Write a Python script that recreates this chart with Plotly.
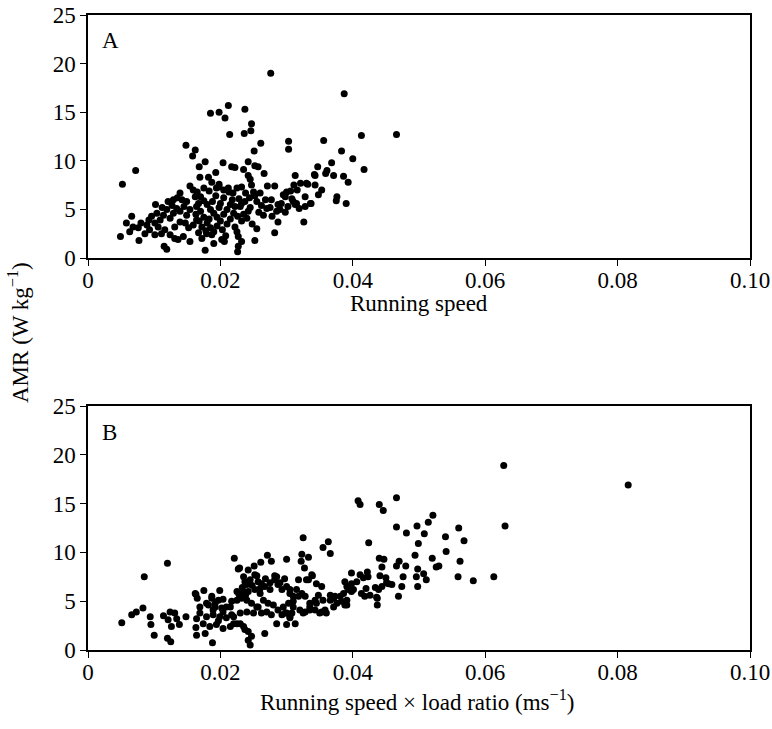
import plotly.graph_objects as go

# ---------------- Panel A: running speed vs AMR ----------------
a_speed = [
    0.0276, 0.0185, 0.0198, 0.0212, 0.0207, 0.0237, 0.0247, 0.0246, 0.0236, 0.0214,
    0.0148, 0.0162, 0.0158, 0.0261, 0.0251, 0.0303, 0.0303, 0.0072, 0.0052,
    0.0387, 0.0413, 0.0466, 0.0356, 0.0383, 0.0400, 0.0368, 0.0347, 0.0361, 0.0359,
    0.0417, 0.0371, 0.0386, 0.0393, 0.0343, 0.0313, 0.0311, 0.0321, 0.0330, 0.0343,
    0.0353, 0.0348, 0.0300, 0.0316, 0.0328, 0.0376, 0.0375, 0.0390, 0.0336, 0.0310,
    0.0313, 0.0319, 0.0326,
    0.0168, 0.0177, 0.0204, 0.0217, 0.0222, 0.0235, 0.0242, 0.0252, 0.0257, 0.0266,
    0.0169, 0.0182, 0.0193, 0.0187, 0.0198, 0.0194, 0.0242, 0.0245, 0.0247,
    0.0342, 0.0332, 0.0271, 0.0282, 0.0295, 0.0298, 0.0308,
    0.0225, 0.0232, 0.0219, 0.0250, 0.0260,
    0.0315, 0.0337, 0.0328, 0.0287, 0.0290, 0.0270, 0.0265, 0.0277,
    0.0287, 0.0282, 0.0252, 0.0240, 0.0242, 0.0232, 0.0237, 0.0230,
    0.0222, 0.0225, 0.0227, 0.0232, 0.0227, 0.0226, 0.0177, 0.0202, 0.0206, 0.0179, 0.0187,
    0.0139, 0.0102, 0.0121, 0.0129, 0.0135, 0.0142, 0.0149, 0.0154, 0.0159, 0.0162,
    0.0066, 0.0058, 0.0068, 0.0076, 0.0063, 0.0049, 0.0077, 0.0089, 0.0093, 0.0086,
    0.0096, 0.0104, 0.0109, 0.0101, 0.0114, 0.0119, 0.0124, 0.0129, 0.0134, 0.0139,
    0.0116, 0.0124, 0.0131, 0.0136, 0.0144, 0.0154, 0.0115, 0.0119,
    0.0106, 0.0111, 0.0101, 0.0147, 0.0152, 0.0159, 0.0164, 0.0131, 0.0139, 0.0149,
    0.0154, 0.0164, 0.0167,
    0.0165, 0.0170, 0.0175, 0.0180, 0.0185, 0.0190, 0.0195, 0.0200, 0.0205, 0.0210,
    0.0215, 0.0218, 0.0170, 0.0175, 0.0180, 0.0185, 0.0190, 0.0195, 0.0200, 0.0205,
    0.0210, 0.0215, 0.0220, 0.0168, 0.0172, 0.0178, 0.0183, 0.0188, 0.0193, 0.0198,
    0.0203, 0.0208, 0.0213, 0.0183, 0.0163, 0.0167, 0.0172, 0.0190, 0.0198, 0.0205,
    0.0212, 0.0175,
    0.0235, 0.0245, 0.0255, 0.0258, 0.0262, 0.0268, 0.0275, 0.0278, 0.0285, 0.0292,
    0.0298, 0.0302, 0.0306, 0.0244, 0.0252, 0.0238, 0.0228, 0.0222, 0.0226, 0.0232,
    0.0248, 0.0255,
    0.0112, 0.0127, 0.0145, 0.0092, 0.0080,
]
a_amr = [
    19.0, 14.9, 15.0, 15.7, 14.4, 15.3, 13.8, 13.1, 12.8, 12.7,
    11.6, 11.1, 10.5, 11.8, 11.0, 12.0, 11.2, 9.0, 7.6,
    16.9, 12.6, 12.7, 12.1, 11.0, 10.2, 9.8, 9.4, 9.0, 8.7,
    9.1, 8.5, 8.4, 7.8, 8.5, 8.5, 7.5, 7.7, 7.7, 7.5,
    7.0, 6.5, 6.8, 7.0, 6.3, 6.3, 5.9, 5.6, 5.6, 5.8,
    5.5, 5.1, 3.7,
    9.4, 9.9, 9.8, 9.4, 9.3, 9.1, 9.9, 9.5, 9.4, 8.7,
    8.3, 8.3, 8.8, 7.8, 7.6, 7.2, 8.5, 8.1, 7.5,
    8.6, 7.6, 7.4, 7.4, 6.5, 6.3, 6.1,
    7.2, 7.3, 6.7, 6.8, 6.7,
    5.6, 5.6, 5.3, 5.5, 5.0, 5.1, 4.4, 6.0,
    3.7, 2.6, 1.8, 4.1, 4.8, 5.6, 5.8, 5.3,
    3.2, 2.7, 2.2, 1.7, 1.2, 0.65, 0.8, 1.9, 1.7, 2.5, 2.4,
    6.7, 5.5, 5.8, 6.0, 6.2, 6.0, 5.8, 7.4, 7.0, 6.3,
    4.3, 3.6, 3.2, 3.1, 2.7, 2.2, 1.8, 3.4, 2.9, 2.5,
    4.3, 4.6, 3.9, 3.6, 4.4, 5.0, 4.1, 4.6, 5.1, 4.8,
    2.9, 2.4, 2.0, 1.9, 2.2, 1.7, 1.2, 0.9,
    3.2, 2.5, 2.4, 3.6, 3.1, 3.4, 3.9, 3.2, 3.7, 4.4,
    5.0, 5.3, 5.6,
    6.8, 6.3, 5.9, 5.5, 5.0, 4.6, 4.2, 3.8, 4.5, 5.0,
    5.5, 6.0, 4.8, 4.2, 3.6, 3.1, 2.7, 3.3, 5.6, 6.2,
    3.5, 4.0, 4.6, 3.8, 3.2, 2.8, 4.0, 5.8, 6.4, 5.2,
    2.9, 2.3, 6.8, 6.9, 4.5, 2.6, 2.0, 1.5, 7.3, 7.0,
    7.2, 7.2,
    4.5, 5.2, 5.8, 4.7, 5.4, 6.0, 5.2, 4.3, 4.8, 5.6,
    4.7, 5.3, 6.9, 6.2, 6.4, 6.7, 6.1, 5.3, 4.3, 3.8,
    3.5, 3.0,
    5.2, 5.4, 5.3, 3.9, 3.6,
]

# ---------------- Panel B: running speed x load ratio vs AMR ----------------
b_speed_load = [
    0.0628, 0.0816, 0.0630, 0.0613,
    0.0408, 0.0411, 0.0466, 0.0440, 0.0446, 0.0521, 0.0514, 0.0497, 0.0466, 0.0481,
    0.0508, 0.0560, 0.0540, 0.0568, 0.0424, 0.0499, 0.0541, 0.0494, 0.0440, 0.0447,
    0.0520, 0.0562, 0.0470, 0.0466, 0.0444, 0.0480, 0.0498, 0.0530, 0.0526, 0.0422,
    0.0423, 0.0411, 0.0416, 0.0507, 0.0511, 0.0450, 0.0454, 0.0459, 0.0476, 0.0496,
    0.0559, 0.0582, 0.0498, 0.0474, 0.0444, 0.0434, 0.0439, 0.0420, 0.0418, 0.0426,
    0.0436, 0.0437, 0.0469, 0.0441,
    0.0325, 0.0363, 0.0355, 0.0366, 0.0271, 0.0261, 0.0277, 0.0300, 0.0323, 0.0333,
    0.0322, 0.0327, 0.0339, 0.0333, 0.0353, 0.0388, 0.0398, 0.0406,
    0.0221, 0.0227, 0.0251, 0.0242, 0.0229, 0.0120, 0.0085, 0.0051, 0.0066, 0.0073,
    0.0083, 0.0094, 0.0095, 0.0100,
    0.0114, 0.0124, 0.0131, 0.0121, 0.0126, 0.0138, 0.0134, 0.0120, 0.0125, 0.0148,
    0.0163, 0.0165, 0.0175, 0.0164, 0.0163, 0.0177, 0.0188,
    0.0230, 0.0237, 0.0242, 0.0245, 0.0247, 0.0267, 0.0285, 0.0300, 0.0305, 0.0298,
    0.0252, 0.0257, 0.0237, 0.0240, 0.0235, 0.0225,
    0.0305, 0.0315, 0.0310, 0.0323, 0.0328, 0.0330, 0.0338, 0.0345, 0.0335, 0.0345,
    0.0355, 0.0366, 0.0371, 0.0376, 0.0381, 0.0386, 0.0391, 0.0388, 0.0398, 0.0401,
    0.0393, 0.0371, 0.0360, 0.0350, 0.0343, 0.0335, 0.0325, 0.0320, 0.0310, 0.0305,
    0.0313, 0.0391, 0.0437, 0.0451,
    0.0252, 0.0260, 0.0267, 0.0275, 0.0282, 0.0287, 0.0293, 0.0300, 0.0305, 0.0318,
    0.0310, 0.0303, 0.0295, 0.0287, 0.0280, 0.0272, 0.0265, 0.0257, 0.0262, 0.0270,
    0.0277, 0.0293, 0.0300, 0.0308, 0.0328, 0.0335, 0.0343, 0.0348, 0.0353, 0.0358,
    0.0366, 0.0373, 0.0383, 0.0391, 0.0398, 0.0413,
    0.0162, 0.0199, 0.0187, 0.0197, 0.0204, 0.0182, 0.0192, 0.0202, 0.0209, 0.0217,
    0.0225, 0.0232, 0.0240, 0.0247, 0.0169, 0.0179, 0.0189, 0.0199, 0.0209, 0.0220,
    0.0230, 0.0240, 0.0250, 0.0255, 0.0174, 0.0184, 0.0194, 0.0204, 0.0215, 0.0225,
    0.0235, 0.0242, 0.0164,
    0.0169, 0.0179, 0.0187, 0.0192, 0.0189, 0.0197, 0.0204, 0.0215, 0.0217, 0.0220,
    0.0235, 0.0245, 0.0255, 0.0262, 0.0268, 0.0275, 0.0282, 0.0290, 0.0297, 0.0233,
    0.0242, 0.0248, 0.0228, 0.0238, 0.0260, 0.0285, 0.0318,
]
b_amr = [
    18.9, 16.9, 12.7, 7.5,
    15.3, 14.9, 15.6, 14.9, 14.3, 13.8, 13.1, 12.7, 12.6, 12.0,
    11.9, 12.5, 11.6, 11.2, 11.0, 10.9, 10.1, 9.7, 9.4, 9.3,
    9.4, 9.1, 9.1, 8.6, 8.5, 8.6, 8.3, 8.6, 8.5, 8.0,
    7.5, 7.7, 7.4, 7.8, 7.2, 7.4, 6.8, 6.7, 7.5, 7.5,
    7.5, 7.1, 6.5, 6.5, 6.5, 6.4, 6.2, 6.3, 5.5, 5.6,
    5.4, 4.6, 5.5, 7.6,
    11.5, 11.1, 10.5, 9.9, 9.7, 9.0, 9.1, 9.3, 9.8, 9.5,
    9.1, 8.4, 7.6, 7.2, 6.5, 7.0, 7.9, 7.0,
    9.4, 8.3, 8.6, 8.2, 8.4, 8.9, 7.5, 2.8, 3.6, 3.9,
    4.3, 3.4, 2.6, 1.5,
    3.5, 3.9, 3.8, 3.1, 2.4, 2.6, 3.2, 1.2, 0.85, 3.4,
    5.7, 5.3, 6.1, 3.2, 2.3, 1.7, 0.75,
    2.7, 2.1, 1.0, 0.5, 1.4, 1.7, 2.7, 2.6, 3.3, 3.8,
    7.7, 7.0, 7.0, 6.7, 6.0, 6.0,
    6.2, 6.2, 5.5, 5.8, 5.5, 7.2, 7.7, 6.8, 4.8, 4.8,
    5.1, 5.6, 5.3, 4.8, 5.5, 5.8, 5.1, 4.6, 6.8, 6.2,
    6.2, 4.4, 3.8, 3.8, 4.1, 4.1, 3.8, 4.1, 4.4, 3.4,
    2.7, 6.5, 5.3, 6.9,
    6.2, 5.8, 6.5, 6.2, 7.2, 6.7, 6.2, 6.5, 5.8, 5.5,
    5.0, 4.8, 4.4, 4.1, 4.6, 4.8, 5.1, 4.4, 3.8, 3.9,
    3.6, 3.6, 3.8, 3.8, 3.9, 4.4, 5.1, 5.6, 3.9, 4.1,
    5.1, 5.5, 5.0, 4.6, 6.0, 5.8,
    5.8, 6.1, 5.3, 5.1, 5.2, 4.6, 4.4, 4.3, 4.4, 5.0,
    5.1, 5.3, 5.1, 4.8, 3.8, 3.4, 3.6, 3.4, 3.3, 3.4,
    3.8, 3.9, 3.8, 4.4, 2.7, 2.4, 2.6, 2.2, 2.4, 2.7,
    2.4, 1.9, 1.5,
    4.4, 4.8, 5.5, 4.8, 4.1, 3.0, 3.9, 4.4, 3.6, 2.7,
    7.5, 7.2, 7.6, 6.8, 7.3, 6.9, 7.6, 6.9, 7.3, 6.4,
    6.0, 6.6, 5.7, 5.6, 6.3, 7.5, 7.2,
]

x_ticks = [0, 0.02, 0.04, 0.06, 0.08, 0.10]
x_tick_labels = ["0", "0.02", "0.04", "0.06", "0.08", "0.10"]
y_ticks = [0, 5, 10, 15, 20, 25]

W, H = 772, 729
FONT = "Liberation Serif, Times New Roman, serif"
FS = 23

fig = go.Figure()
marker = dict(color="black", size=7, line=dict(width=0))
fig.add_trace(go.Scatter(x=a_speed, y=a_amr, mode="markers", marker=marker,
                         xaxis="x", yaxis="y", cliponaxis=False, showlegend=False))
fig.add_trace(go.Scatter(x=b_speed_load, y=b_amr, mode="markers", marker=marker,
                         xaxis="x2", yaxis="y2", cliponaxis=False, showlegend=False))

xd = [88 / W, 750 / W]
axis_common = dict(showline=True, linecolor="black", linewidth=1.5, mirror=True,
                   ticks="outside", ticklen=6, tickwidth=1.2, tickcolor="black",
                   showgrid=False, zeroline=False, automargin=False,
                   tickfont=dict(family=FONT, size=FS, color="black"))
fig.update_layout(
    template="none",
    width=W, height=H, autosize=False,
    margin=dict(l=0, r=0, t=0, b=0, pad=0),
    paper_bgcolor="white", plot_bgcolor="white",
    font=dict(family=FONT, color="black"),
    xaxis=dict(domain=xd, range=[0, 0.1], tickvals=x_ticks, ticktext=x_tick_labels,
               anchor="y", ticklabelstandoff=-5, **axis_common),
    yaxis=dict(domain=[1 - 258 / H, 1 - 15 / H], range=[0, 25], tickvals=y_ticks,
               anchor="x", **axis_common),
    xaxis2=dict(domain=xd, range=[0, 0.1], tickvals=x_ticks, ticktext=x_tick_labels,
                anchor="y2", ticklabelstandoff=-5, **axis_common),
    yaxis2=dict(domain=[1 - 650 / H, 1 - 406 / H], range=[0, 25], tickvals=y_ticks,
                anchor="x2", **axis_common),
)

ann = dict(showarrow=False, font=dict(family=FONT, size=FS, color="black"))
fig.add_annotation(text="A", xref="paper", yref="paper", x=100 / W, y=1 - 40 / H,
                   xanchor="left", yanchor="middle", **ann)
fig.add_annotation(text="B", xref="paper", yref="paper", x=100 / W, y=1 - 432 / H,
                   xanchor="left", yanchor="middle", **ann)
fig.add_annotation(text="Running speed", xref="paper", yref="paper",
                   x=419 / W, y=1 - 304 / H, xanchor="center", yanchor="middle", **ann)
fig.add_annotation(text="Running speed × load ratio (ms<sup>−1</sup>)", xref="paper",
                   yref="paper", x=417 / W, y=1 - 700 / H, xanchor="center",
                   yanchor="middle", **ann)
fig.add_annotation(text="AMR (W kg<sup>−1</sup>)", xref="paper", yref="paper",
                   x=18 / W, y=1 - 333 / H, xanchor="center", yanchor="middle",
                   textangle=-90, **ann)

fig.write_html("out.html", config={"displayModeBar": False},
               post_script="document.body.style.margin='0';")
